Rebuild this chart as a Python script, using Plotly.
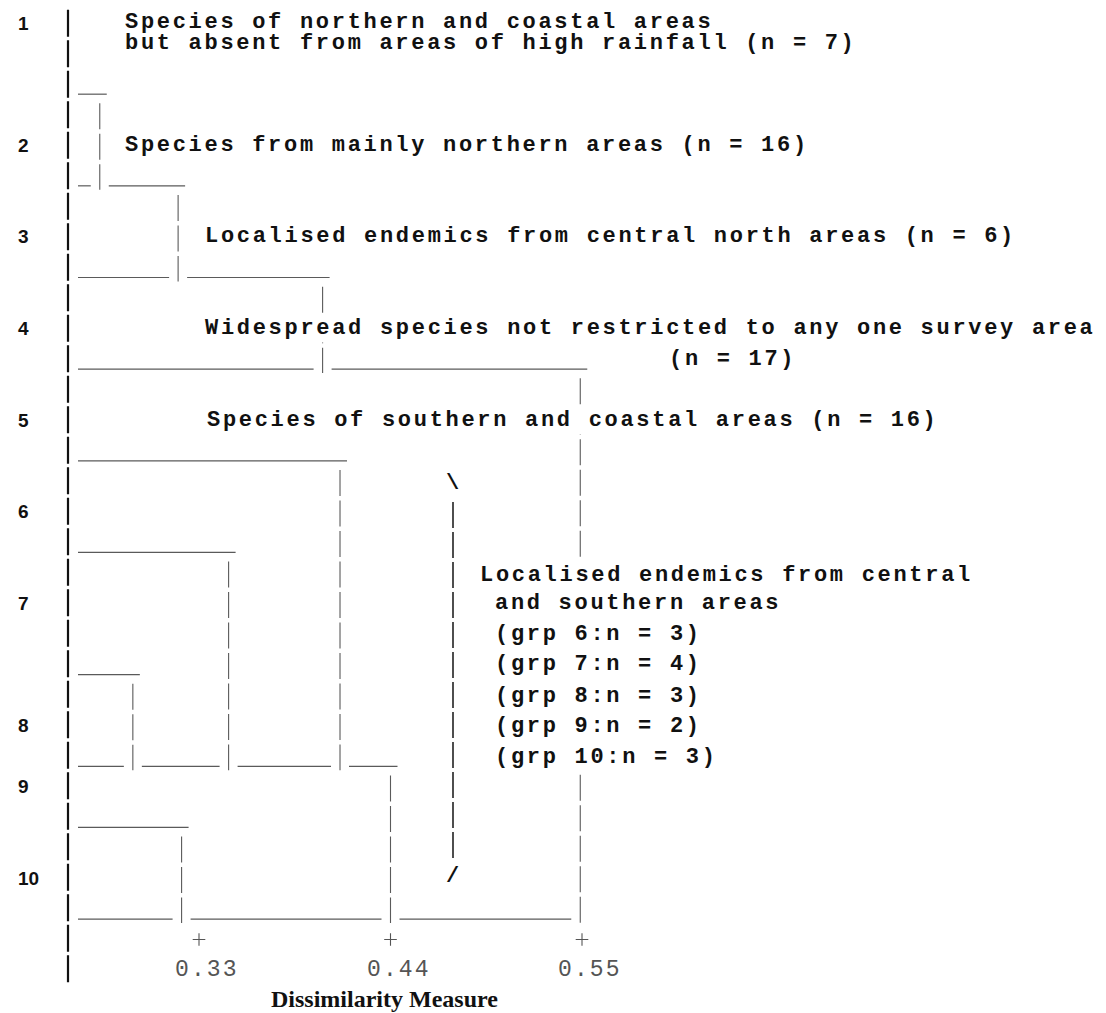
import plotly.graph_objects as go

# ---------------- data ----------------
GROUP_LABELS = ["1", "2", "3", "4", "5", "6", "7", "8", "9", "10"]
# dissimilarity at which group i is fused with the cluster that follows it
JOIN_HEIGHTS = [0.273, 0.318, 0.401, 0.549, 0.411, 0.347, 0.292, 0.440, 0.320]
TICK_VALUES = [0.33, 0.44, 0.55]
TICK_LABELS = ["0.33", "0.44", "0.55"]
AXIS_TITLE = "Dissimilarity Measure"
GROUP_NOTES = [
    "Species of northern and coastal areas",
    "but absent from areas of high rainfall (n = 7)",
    "Species from mainly northern areas (n = 16)",
    "Localised endemics from central north areas (n = 6)",
    "Widespread species not restricted to any one survey area",
    "(n = 17)",
    "Species of southern and coastal areas (n = 16)",
    "Localised endemics from central",
    "and southern areas",
    "(grp 6:n = 3)",
    "(grp 7:n = 4)",
    "(grp 8:n = 3)",
    "(grp 9:n = 2)",
    "(grp 10:n = 3)",
]

# ---------------- layout ----------------
W, H = 1106, 1013
ROW0_PX, ROW_PX = 23.0, 30.55
PX_PER_UNIT = 191.5 / 0.11
X_LEFT = 0.33 - 199 / PX_PER_UNIT
X_RIGHT = X_LEFT + W / PX_PER_UNIT
Y_TOP = -ROW0_PX / ROW_PX
Y_BOTTOM = (H - ROW0_PX) / ROW_PX

LABEL_ROW = [0, 4, 7, 10, 13, 16, 19, 23, 25, 28]
BOTTOM_ROW = [2, 5, 8, 11, 14, 17, 21, 24, 26, 29]
UNDER = 0.33
NOTE_POS = [(123, -0.02), (123, 0.68), (123, 4), (203, 7), (203, 10), (667, 11),
            (205, 13), (478, 18.07), (493, 19), (493, 20.03), (493, 21.01),
            (493, 22.06), (493, 23.04), (493, 24.03)]
NOTE_BG = [False, False] + [True] * 12

MONO = "Liberation Mono"
LINE_COL = "#5a5a5a"
START = X_LEFT + 78 / PX_PER_UNIT
OVER = 7 / PX_PER_UNIT
GAP = 9 / PX_PER_UNIT
V_TOP = 0.30
V_BOT = 0.13


def spaced(s, px):
    return f'<span style="letter-spacing:{px}px">{s}</span>'


def px_x(px):
    return px / W


n = len(GROUP_LABELS)
root = max(JOIN_HEIGHTS)
under = [r + UNDER for r in BOTTOM_ROW]

# where each vertical connector ends: last group of the cluster below
ends = []
for k, h in enumerate(JOIN_HEIGHTS):
    j = n - 1
    for m in range(k + 1, n - 1):
        if JOIN_HEIGHTS[m] > h:
            j = m
            break
    ends.append(j)

vx, vy = [], []
for k, h in enumerate(JOIN_HEIGHTS):
    vx += [h, h, None]
    vy += [under[k] + V_TOP, under[ends[k]] + V_BOT, None]

hx, hy = [], []
for g in range(n):
    xend = JOIN_HEIGHTS[g] + OVER if g < n - 1 else root - GAP
    cuts = sorted(JOIN_HEIGHTS[k] for k in range(n - 1)
                  if ends[k] == g and JOIN_HEIGHTS[k] < xend)
    x0 = START
    for c in cuts:
        hx += [x0, c - GAP, None]
        hy += [under[g], under[g], None]
        x0 = c + GAP
    hx += [x0, xend, None]
    hy += [under[g], under[g], None]

fig = go.Figure()
fig.add_trace(go.Scatter(x=hx, y=hy, mode="lines",
                         line=dict(color=LINE_COL, width=1.2),
                         hoverinfo="skip"))
fig.add_trace(go.Scatter(x=vx, y=vy, mode="lines",
                         line=dict(color=LINE_COL, width=1.1, dash="26px,4.5px"),
                         hoverinfo="skip"))
# tick marks "+"
fig.add_trace(go.Scatter(x=TICK_VALUES, y=[30] * len(TICK_VALUES), mode="markers",
                         marker=dict(symbol="cross-thin", size=9,
                                     line=dict(color="#555", width=1.1)),
                         hoverinfo="skip"))

shapes = [
    # main left axis line
    dict(type="line", xref="paper", yref="y", x0=px_x(68), x1=px_x(68),
         y0=-0.43, y1=31.42, line=dict(color="#111", width=2.2, dash="27px,3.5px")),
    # white cover behind text block
    dict(type="rect", xref="paper", yref="y", x0=px_x(470), x1=px_x(985),
         y0=17.55, y1=24.55, fillcolor="white", line=dict(width=0), layer="above"),
    # bracket vertical
    dict(type="line", xref="paper", yref="y", x0=px_x(453), x1=px_x(453),
         y0=15.68, y1=27.4, line=dict(color="#222", width=1.6, dash="26px,4px")),
]

ann = []
for lab, row in zip(GROUP_LABELS, LABEL_ROW):
    ann.append(dict(text=lab, xref="paper", yref="y", x=px_x(16), y=row,
                    xanchor="left", yanchor="middle", showarrow=False,
                    font=dict(family="Liberation Sans", size=19, weight="bold",
                              color="#111")))
for txt, (px, row), bg in zip(GROUP_NOTES, NOTE_POS, NOTE_BG):
    a = dict(text=spaced(txt, 2.7), xref="paper", yref="y", x=px_x(px), y=row,
             xanchor="left", yanchor="middle", showarrow=False, borderpad=1,
             font=dict(family=MONO, size=22, weight="bold", color="#111"))
    if bg:
        a["bgcolor"] = "white"
    ann.append(a)
for ch, row in [("\\", 15.06), ("/", 27.95)]:
    ann.append(dict(text=ch, xref="paper", yref="y", x=px_x(452), y=row,
                    xanchor="center", yanchor="middle", showarrow=False,
                    font=dict(family=MONO, size=22, weight="bold", color="#111")))
for v, t in zip(TICK_VALUES, TICK_LABELS):
    ann.append(dict(text=spaced(t, 2.1), xref="x", yref="y", x=v, y=31.0,
                    xanchor="center", yanchor="middle", xshift=8, showarrow=False,
                    font=dict(family=MONO, size=23, color="#555")))
ann.append(dict(text=AXIS_TITLE, xref="paper", yref="y", x=px_x(384.5), y=31.95,
                xanchor="center", yanchor="middle", showarrow=False,
                font=dict(family="Liberation Serif", size=24, weight="bold",
                          color="#111")))

fig.update_layout(
    width=W, height=H, margin=dict(l=0, r=0, t=0, b=0),
    paper_bgcolor="white", plot_bgcolor="white", showlegend=False,
    xaxis=dict(range=[X_LEFT, X_RIGHT], visible=False, fixedrange=True),
    yaxis=dict(range=[Y_BOTTOM, Y_TOP], visible=False, fixedrange=True),
    shapes=shapes, annotations=ann,
)

fig.write_html(
    "out.html",
    config={"displayModeBar": False},
    post_script="document.body.style.margin='0';document.body.style.overflow='hidden';",
)
